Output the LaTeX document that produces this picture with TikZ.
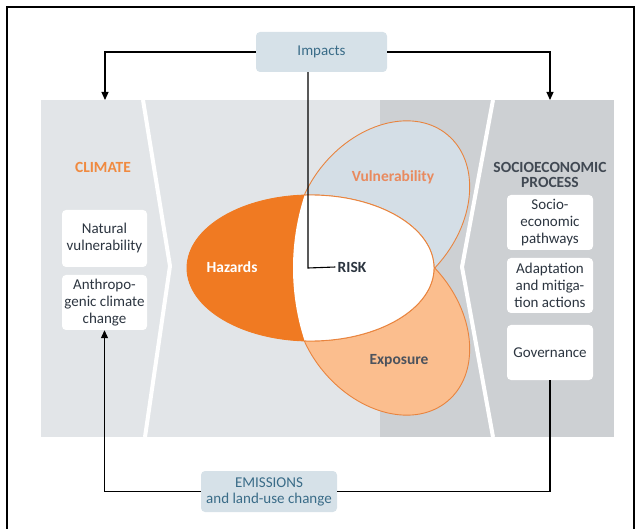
\documentclass[tikz,border=0pt]{standalone}
\usepackage{fontspec}
\setmainfont{Carlito}
\usetikzlibrary{arrows.meta,shapes.geometric}
\definecolor{bandlight}{HTML}{E2E5E8}
\definecolor{banddark}{HTML}{CDD0D3}
\definecolor{boxblue}{HTML}{D6E1E8}
\definecolor{tealtext}{HTML}{3A6C88}
\definecolor{hazorange}{HTML}{F07A22}
\definecolor{edgeorange}{HTML}{E8843F}
\definecolor{vulfill}{HTML}{D4DEE6}
\definecolor{vultext}{HTML}{E98A5E}
\definecolor{expfill}{HTML}{FBBE8E}
\definecolor{darktext}{HTML}{2C3540}
\definecolor{climorange}{HTML}{F08A40}
\begin{document}
\begin{tikzpicture}[x=1pt,y=-1pt,
  font=\fontsize{15}{17}\selectfont,
  bluebox/.style={fill=boxblue, rounded corners=4pt, text=tealtext, align=center, inner sep=0pt},
  whitebox/.style={fill=white, rounded corners=4pt, text=darktext, align=center, inner sep=0pt, minimum width=86pt, minimum height=55pt},
  conn/.style={line width=1.1pt, black},
  arr/.style={conn, -{Triangle[length=8pt,width=7pt]}},
  sepline/.style={white, line width=4pt, line join=round},
  blob/.style={ellipse, inner sep=0pt, draw=edgeorange, line width=0.9pt},
  lbl/.style={font=\fontsize{15.5}{17}\selectfont\bfseries, inner sep=2pt}]
\useasboundingbox (0,0) rectangle (640,529);
\clip (0,0) rectangle (640,529);
% frame
\draw[line width=2pt] (7,545) -- (7,7) -- (634,7) -- (634,545);
% band
\fill[bandlight] (41,100) rectangle (614,437);
\fill[banddark] (380,100) rectangle (614,437);
\draw[sepline] (143,100) -- (170,266) -- (145,437);
\draw[sepline] (493,100) -- (462,267) -- (493,437);
% ellipses
\node[blob, fill=vulfill, minimum width=204pt, minimum height=152pt, rotate=50] (vul) at (382,213) {};
\node[blob, fill=expfill, minimum width=204pt, minimum height=152pt, rotate=-50] (exp) at (382,323) {};
\node[blob, fill=hazorange, draw=hazorange, minimum width=247pt, minimum height=146pt] (haz) at (310.5,268) {};
\begin{scope}
\clip (526,268) circle[radius=233pt];
\fill[white, draw=edgeorange, line width=0.9pt] (haz.center) ellipse[x radius=123.5pt, y radius=73pt];
\end{scope}
% labels
\node[lbl, text=white] (hazl) at (232,267) {Hazards};
\node[lbl, text=darktext] (risk) at (352,267) {RISK};
\node[lbl, text=vultext] (vull) at (393,177) {Vulnerability};
\node[lbl, text=darktext!85] (expl) at (399,361) {Exposure};
\node[lbl, text=climorange] (clim) at (103,167) {CLIMATE};
\node[lbl, text=darktext!90, align=center, font=\fontsize{15.5}{15}\selectfont\bfseries] (socio) at (550,175) {SOCIOECONOMIC\\PROCESS};
% boxes
\node[whitebox, minimum width=85pt, minimum height=57pt] (nat) at (104.5,238.5) {Natural\\vulnerability};
\node[whitebox, minimum width=85pt, minimum height=55pt] (anthro) at (104.5,302.5) {Anthropo-\\genic climate\\change};
\node[whitebox] (sep) at (550,222.5) {Socio-\\economic\\pathways};
\node[whitebox] (adapt) at (550,285.5) {Adaptation\\and mitiga-\\tion actions};
\node[whitebox] (gov) at (550,352.5) {Governance};
\node[bluebox, minimum width=131pt, minimum height=40pt] (impacts) at (321.5,52) {Impacts};
\node[bluebox, minimum width=136pt, minimum height=41pt, font=\fontsize{15}{16}\selectfont] (emis) at (269,491.5) {EMISSIONS\\and land-use change};
% connectors
\coordinate (cl) at (105,100);
\coordinate (cr) at (550,100);
\coordinate (rk) at (308,268);
\draw[arr] (impacts.west) -| (cl);
\draw[arr] (impacts.east) -| (cr);
\draw[conn] (impacts.south -| rk) -- (rk) -- (risk.west);
\draw[conn] (gov.south) |- (emis.east);
\draw[arr] (emis.west) -| (anthro.south);
\end{tikzpicture}
\end{document}
